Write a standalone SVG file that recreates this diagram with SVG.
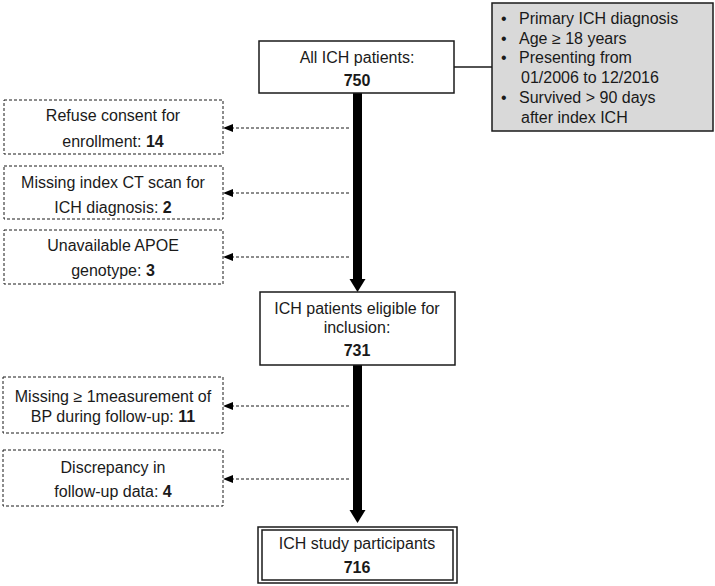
<svg xmlns="http://www.w3.org/2000/svg" width="715" height="586" viewBox="0 0 715 586">
<defs>
<style>
text{font-family:"Liberation Sans",Arial,sans-serif;font-size:16px;fill:#1a1a1a}
.c{text-anchor:middle}
b,.b{font-weight:bold}
.box{fill:#fff;stroke:#1a1a1a;stroke-width:1.5}
.dbox{fill:#fff;stroke:#1a1a1a;stroke-width:1;stroke-dasharray:3 2}
.gray{fill:#d9d9d9;stroke:#1a1a1a;stroke-width:1.5}
.thick{stroke:#000;stroke-width:9;fill:none}
.dash{stroke:#1a1a1a;stroke-width:1;stroke-dasharray:3 2;fill:none}
</style>
<marker id="ah" markerWidth="10" markerHeight="8" refX="9" refY="4" orient="auto" markerUnits="userSpaceOnUse">
<path d="M0,0 L10,4 L0,8 Z" fill="#000"/>
</marker>
</defs>
<rect width="715" height="586" fill="#fff"/>

<g id="connectors">
<line x1="454" y1="67" x2="492" y2="67" stroke="#1a1a1a" stroke-width="1.5"/>
<line class="thick" x1="357.5" y1="93" x2="357.5" y2="280"/>
<path d="M349.5,279 L365.5,279 L357.5,292 Z" fill="#000"/>
<line class="thick" x1="357.5" y1="365" x2="357.5" y2="511"/>
<path d="M349.5,510 L365.5,510 L357.5,523 Z" fill="#000"/>
<line class="dash" x1="349" y1="128" x2="224" y2="128" marker-end="url(#ah)"/>
<line class="dash" x1="349" y1="193" x2="224" y2="193" marker-end="url(#ah)"/>
<line class="dash" x1="349" y1="257" x2="224" y2="257" marker-end="url(#ah)"/>
<line class="dash" x1="349" y1="406" x2="224" y2="406" marker-end="url(#ah)"/>
<line class="dash" x1="349" y1="479" x2="224" y2="479" marker-end="url(#ah)"/>
</g>

<g id="all">
<rect class="box" x="259" y="41" width="195" height="52"/>
<text class="c" x="357" y="63">All ICH patients:</text>
<text class="c b" x="357" y="86">750</text>
</g>

<g id="criteria">
<rect class="gray" x="492" y="3" width="221" height="128"/>
<text x="501" y="24">•</text><text x="519" y="24">Primary ICH diagnosis</text>
<text x="501" y="44">•</text><text x="519" y="44">Age ≥ 18 years</text>
<text x="501" y="63">•</text><text x="519" y="63">Presenting from</text>
<text x="521" y="83">01/2006 to 12/2016</text>
<text x="501" y="103">•</text><text x="519" y="103">Survived &gt; 90 days</text>
<text x="521" y="123">after index ICH</text>
</g>

<g id="ex1">
<rect class="dbox" x="4" y="100" width="219" height="54"/>
<text class="c" x="113" y="121">Refuse consent for</text>
<text class="c" x="113" y="147">enrollment: <tspan class="b">14</tspan></text>
</g>

<g id="ex2">
<rect class="dbox" x="4" y="166" width="219" height="53"/>
<text class="c" x="113" y="188">Missing index CT scan for</text>
<text class="c" x="113" y="213">ICH diagnosis: <tspan class="b">2</tspan></text>
</g>

<g id="ex3">
<rect class="dbox" x="4" y="230" width="219" height="54"/>
<text class="c" x="113" y="251">Unavailable APOE</text>
<text class="c" x="113" y="276">genotype: <tspan class="b">3</tspan></text>
</g>

<g id="eligible">
<rect class="box" x="260" y="292" width="195" height="73"/>
<text class="c" x="357" y="314">ICH patients eligible for</text>
<text class="c" x="357" y="333">inclusion:</text>
<text class="c b" x="357" y="356">731</text>
</g>

<g id="ex4">
<rect class="dbox" x="3" y="377" width="220" height="56"/>
<text class="c" x="113" y="402">Missing ≥ 1measurement of</text>
<text class="c" x="113" y="422">BP during follow-up: <tspan class="b">11</tspan></text>
</g>

<g id="ex5">
<rect class="dbox" x="3" y="450" width="220" height="56"/>
<text class="c" x="113" y="473">Discrepancy in</text>
<text class="c" x="113" y="497">follow-up data: <tspan class="b">4</tspan></text>
</g>

<g id="final">
<rect class="box" x="258" y="527" width="199" height="56"/>
<rect class="box" x="262" y="530" width="191" height="50"/>
<text class="c" x="357" y="549">ICH study participants</text>
<text class="c b" x="357" y="573">716</text>
</g>
</svg>
